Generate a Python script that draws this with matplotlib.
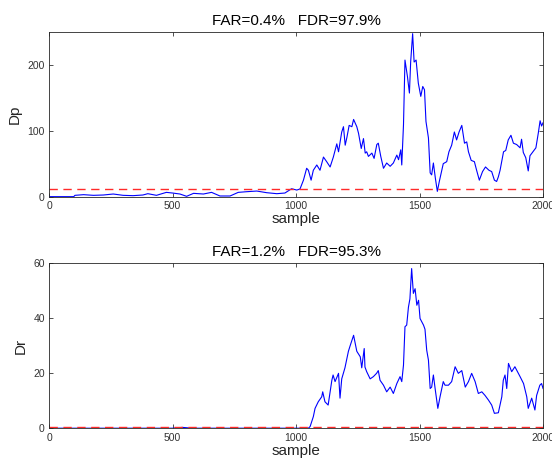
import matplotlib
matplotlib.use("Agg")
import matplotlib.pyplot as plt

plt.rcParams['font.family'] = ['Liberation Sans', 'DejaVu Sans']

# Dp statistic (sample index, value)
dp_x = [0, 100, 105, 140, 180, 220, 260, 300, 340, 380, 400, 435, 475, 500, 530,
        557, 585, 625, 658, 692, 733, 766, 800, 841, 881, 922, 955, 982, 1003, 1016,
        1030, 1043, 1050, 1061, 1070, 1084, 1097, 1111, 1124, 1138, 1151, 1165, 1172,
        1185, 1192, 1199, 1206, 1215, 1226, 1233, 1246, 1253, 1264, 1273, 1280, 1286,
        1293, 1307, 1316, 1327, 1333, 1343, 1354, 1367, 1381, 1394, 1408, 1415, 1424,
        1428, 1435, 1441, 1451, 1459, 1464, 1472, 1478, 1486, 1495, 1505, 1513, 1520,
        1526, 1536, 1543, 1549, 1556, 1564, 1572, 1580, 1596, 1610, 1619, 1630, 1641,
        1650, 1660, 1671, 1682, 1691, 1698, 1709, 1722, 1731, 1742, 1755, 1767, 1781,
        1792, 1803, 1812, 1819, 1826, 1840, 1849, 1859, 1870, 1880, 1893, 1907, 1913,
        1920, 1930, 1940, 1947, 1961, 1971, 1981, 1988, 1994, 2000]
dp_y = [0, 0, 2, 3, 2, 2.5, 4, 2, 1.5, 2.5, 4.5, 2, 6.5, 5.5, 4,
        0.5, 5, 4, 6.5, 1, 1, 6.5, 7.5, 8.5, 6, 4.5, 5.5, 12, 10, 11.6,
        25, 43, 40, 25, 40, 48, 40, 60, 53, 45, 60, 80, 68,
        98, 106, 78, 90, 108, 106, 117, 106, 96, 73, 88, 66, 68,
        61, 66, 58, 79, 81, 61, 43, 51, 46, 51, 63, 56, 71,
        48, 109, 207, 182, 157, 204, 247, 204, 207, 172, 152, 167, 162,
        114, 89, 36, 33, 51, 28, 8, 23, 50, 53, 68, 78, 98,
        86, 98, 108, 81, 83, 68, 55, 53, 40, 25, 38, 45, 40,
        38, 25, 23, 30, 40, 68, 70, 86, 93, 81, 79, 74, 87,
        67, 59, 39, 62, 69, 74, 97, 115, 107, 112]

# Dr statistic (sample index, value)
dr_x = [0, 500, 540, 580, 1000, 1050, 1057, 1070, 1077, 1090, 1104, 1108, 1117, 1130,
        1145, 1150, 1158, 1172, 1178, 1185, 1198, 1212, 1219, 1233, 1246, 1260, 1266,
        1276, 1279, 1286, 1300, 1313, 1326, 1333, 1340, 1354, 1367, 1381, 1394, 1408,
        1421, 1428, 1435, 1441, 1448, 1455, 1461, 1468, 1475, 1482, 1489, 1496, 1502,
        1516, 1522, 1529, 1536, 1543, 1549, 1556, 1563, 1574, 1583, 1596, 1603, 1617,
        1630, 1644, 1657, 1671, 1685, 1698, 1711, 1725, 1738, 1752, 1765, 1779, 1792,
        1803, 1819, 1833, 1839, 1846, 1853, 1860, 1873, 1886, 1907, 1921, 1934, 1940,
        1954, 1967, 1974, 1987, 1994, 2000]
dr_y = [0.1, 0.1, 0.4, 0.1, 0.1, 0.1, 0.7, 4.3, 7.3, 9.7, 11.5, 13.3, 9.7, 8.5,
        17.5, 19.4, 17, 20, 11, 18, 22, 28, 30, 33.8, 28, 26, 22,
        29, 22.3, 20.6, 18, 18.8, 20, 21, 17.5, 15.7, 13.3, 15, 12.7, 16.3,
        18.8, 17, 23, 36.9, 37.5, 44, 47, 58, 49, 50.7, 44.7, 46.5, 39.9,
        37.5, 36, 28.4, 24.8, 14.5, 15, 19.4, 14.5, 7.3, 11.5, 17, 15.7, 15.7,
        17, 22.4, 20, 21, 15, 17, 20, 17, 12.7, 13.3, 12, 10.3, 8.5,
        5.5, 5.7, 11.5, 17.5, 19.4, 14.5, 23.6, 20.6, 22.4, 18.8, 16.3, 11.5, 7.3,
        11, 6.7, 12, 15.7, 16.3, 14.5]

dp_limit = 11
dr_limit = 0.4

panels = [
    (dp_x, dp_y, dp_limit, "Dp", "FAR=0.4%   FDR=97.9%", 250, [0, 100, 200]),
    (dr_x, dr_y, dr_limit, "Dr", "FAR=1.2%   FDR=95.3%", 60, [0, 20, 40, 60]),
]
boxes = [[0.0888, 0.578, 0.895, 0.354], [0.0888, 0.0805, 0.895, 0.355]]

fig = plt.figure(figsize=(5.52, 4.66), dpi=100)

for box, (xs, ys, lim, ylab, title, ytop, yt) in zip(boxes, panels):
    ax = fig.add_axes(box)
    ax.plot(xs, ys, color='#0000ff', lw=0.8)
    ax.axhline(lim, color='#ff2a2a', lw=1.0, ls=(0, (6, 4)))
    ax.set_xlim(0, 2000)
    ax.set_ylim(0, ytop)
    ax.set_xticks([0, 500, 1000, 1500, 2000])
    ax.set_yticks(yt)
    ax.tick_params(direction='in', top=True, right=True, length=3, width=0.6,
                   labelsize=7.5, colors='#333333', pad=3)
    for s in ax.spines.values():
        s.set_linewidth(0.6)
        s.set_color('#262626')
    ax.set_xlabel("sample", fontsize=11, color='#262626', labelpad=1)
    ax.set_ylabel(ylab, fontsize=11, color='#262626', labelpad=4)
    ax.set_title(title, fontsize=11, color='#000000', pad=5)

fig.savefig("out.png", dpi=100)
